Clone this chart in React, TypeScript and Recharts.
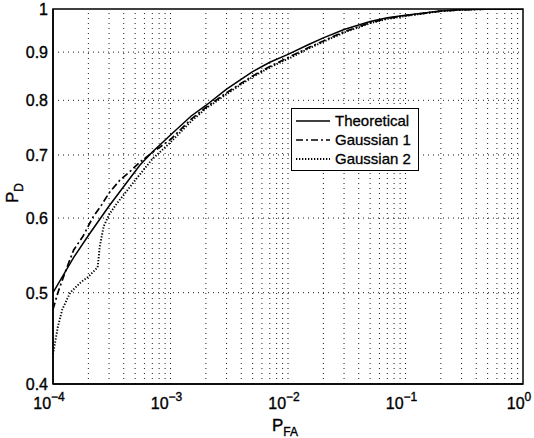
import { LineChart, Line, XAxis, YAxis, ReferenceLine, ReferenceArea } from "recharts";

// P_FA / P_D pairs
const theoreticalX = [1e-4, 1.5e-4, 2e-4, 3e-4, 4e-4, 5.5e-4, 7e-4, 1e-3, 1.5e-3, 2e-3, 3e-3, 5e-3, 7e-3, 1e-2, 1.5e-2, 2e-2, 3e-2, 5e-2, 7e-2, 1e-1, 1.5e-1, 2e-1, 3e-1, 5e-1, 1];
const theoreticalY = [0.5, 0.545, 0.575, 0.618, 0.648, 0.683, 0.705, 0.735, 0.77, 0.79, 0.822, 0.858, 0.878, 0.895, 0.917, 0.932, 0.951, 0.97, 0.979, 0.985, 0.991, 0.995, 0.998, 1, 1];

const gauss1X = [1e-4, 1.1e-4, 1.3e-4, 1.5e-4, 1.8e-4, 2.2e-4, 2.6e-4, 3e-4, 3.7e-4, 4.5e-4, 5.5e-4, 7e-4, 1e-3, 1.5e-3, 2e-3, 3e-3, 4e-3, 5e-3, 7e-3, 1e-2, 1.5e-2, 2e-2, 3e-2, 5e-2, 7e-2, 1e-1, 1.5e-1, 2e-1, 3e-1, 5e-1, 1];
const gauss1Y = [0.48, 0.5, 0.53, 0.555, 0.574, 0.602, 0.62, 0.638, 0.658, 0.672, 0.688, 0.704, 0.727, 0.764, 0.786, 0.815, 0.834, 0.849, 0.869, 0.888, 0.91, 0.925, 0.946, 0.967, 0.977, 0.984, 0.99, 0.995, 0.998, 1, 1];

const gauss2X = [1e-4, 1.1e-4, 1.2e-4, 1.4e-4, 1.7e-4, 2e-4, 2.4e-4, 2.5e-4, 2.7e-4, 3e-4, 3.5e-4, 4e-4, 5e-4, 7e-4, 1e-3, 1.5e-3, 2e-3, 3e-3, 4e-3, 5e-3, 7e-3, 1e-2, 1.5e-2, 2e-2, 3e-2, 5e-2, 7e-2, 1e-1, 1.5e-1, 2e-1, 3e-1, 5e-1, 1];
const gauss2Y = [0.43, 0.46, 0.48, 0.5, 0.512, 0.52, 0.532, 0.56, 0.588, 0.605, 0.622, 0.635, 0.658, 0.693, 0.722, 0.76, 0.784, 0.812, 0.832, 0.847, 0.867, 0.885, 0.908, 0.923, 0.944, 0.966, 0.976, 0.983, 0.99, 0.995, 0.998, 1, 1];

const xTicks = [1e-4, 1e-3, 1e-2, 1e-1, 1];
const yTicks = [0.4, 0.5, 0.6, 0.7, 0.8, 0.9, 1];

const theoretical = theoreticalX.map((x, i) => ({ x, y: theoreticalY[i] }));
const gauss1 = gauss1X.map((x, i) => ({ x, y: gauss1Y[i] }));
const gauss2 = gauss2X.map((x, i) => ({ x, y: gauss2Y[i] }));

// log minor grid: 2..9 in every decade plus the decade lines
const xGrid: number[] = [];
[1e-4, 1e-3, 1e-2, 1e-1].forEach((d, j) => {
  for (let k = j === 0 ? 2 : 1; k <= 9; k++) xGrid.push(d * k);
});
const yGrid = yTicks.slice(1, -1);

const FONT = "'Liberation Sans', Arial, Helvetica, sans-serif";
const GRID = { stroke: "#000", strokeWidth: 0.9, strokeDasharray: "1 4" };
const INK = { fill: "#000", stroke: "#000", strokeWidth: 0.35 };

const SERIES = [
  { name: "Theoretical", data: theoretical, dash: undefined, width: 1.5 },
  { name: "Gaussian 1", data: gauss1, dash: "7 3 2 3", width: 1.7 },
  { name: "Gaussian 2", data: gauss2, dash: "1.3 1.7", width: 1.9 },
];

function XTick({ x, y, payload }: any) {
  const e = Math.round(Math.log10(payload.value));
  return (
    <text x={x - 4} y={y + 25} textAnchor="middle" fontFamily={FONT} fontSize={16} {...INK}>
      <tspan>10</tspan>
      <tspan dy={-8} fontSize={12}>{e === 0 ? "0" : "\u2212" + -e}</tspan>
    </text>
  );
}

function YTick({ x, y, payload }: any) {
  return (
    <text x={x} y={y + 6} textAnchor="end" fontFamily={FONT} fontSize={16} {...INK}>
      {payload.value}
    </text>
  );
}

function LegendBox() {
  return (
    <div style={{ position: "absolute", left: 291, top: 108, border: "1px solid #000", background: "#fff", padding: "2px 7px 2px 4px", fontFamily: FONT, fontSize: 15, lineHeight: "19px", WebkitTextStroke: "0.3px #000" }}>
      {SERIES.map((s) => (
        <div key={s.name} style={{ display: "flex", alignItems: "center" }}>
          <svg width={34} height={10} style={{ marginRight: 5 }}>
            <line x1={0} y1={5} x2={34} y2={5} stroke="#000" strokeWidth={s.width} strokeDasharray={s.dash} />
          </svg>
          <span>{s.name}</span>
        </div>
      ))}
    </div>
  );
}

export default function App() {
  return (
    <div style={{ position: "absolute", left: 0, top: 0, width: 534, height: 438, background: "#fff" }}>
      <LineChart width={534} height={438} margin={{ top: 9, right: 11, bottom: 0, left: 8 }}>
        <XAxis
          dataKey="x"
          type="number"
          scale="log"
          domain={[1e-4, 1]}
          ticks={xTicks}
          allowDataOverflow
          tick={<XTick />}
          tickLine={false}
          tickSize={0}
          tickMargin={0}
          height={54}
          axisLine={{ stroke: "#000", strokeWidth: 1.5 }}
          label={{
            content: () => (
              <text x={285} y={431} textAnchor="middle" fontFamily={FONT} fontSize={17} {...INK}>
                P<tspan dy={5} fontSize={12}>FA</tspan>
              </text>
            ),
          }}
        />
        <YAxis
          dataKey="y"
          type="number"
          scale="log"
          domain={[0.4, 1]}
          ticks={yTicks}
          allowDataOverflow
          tick={<YTick />}
          tickLine={false}
          tickSize={0}
          tickMargin={5}
          width={45}
          axisLine={{ stroke: "#000", strokeWidth: 1.5 }}
          label={{
            content: () => (
              <text x={18} y={193} transform="rotate(-90, 18, 193)" textAnchor="middle" fontFamily={FONT} fontSize={17} {...INK}>
                P<tspan dy={5} fontSize={12}>D</tspan>
              </text>
            ),
          }}
        />
        {xGrid.map((v) => (
          <ReferenceLine key={"gx" + v} x={v} {...GRID} />
        ))}
        {yGrid.map((v) => (
          <ReferenceLine key={"gy" + v} y={v} {...GRID} />
        ))}
        <ReferenceArea x1={1e-4} x2={1} y1={0.4} y2={1} fill="none" stroke="#000" strokeWidth={1.5} />
        {SERIES.map((s) => (
          <Line
            key={s.name}
            name={s.name}
            data={s.data}
            dataKey="y"
            type="linear"
            stroke="#000"
            strokeWidth={s.width}
            strokeDasharray={s.dash}
            dot={false}
            isAnimationActive={false}
          />
        ))}
      </LineChart>
      <LegendBox />
    </div>
  );
}
